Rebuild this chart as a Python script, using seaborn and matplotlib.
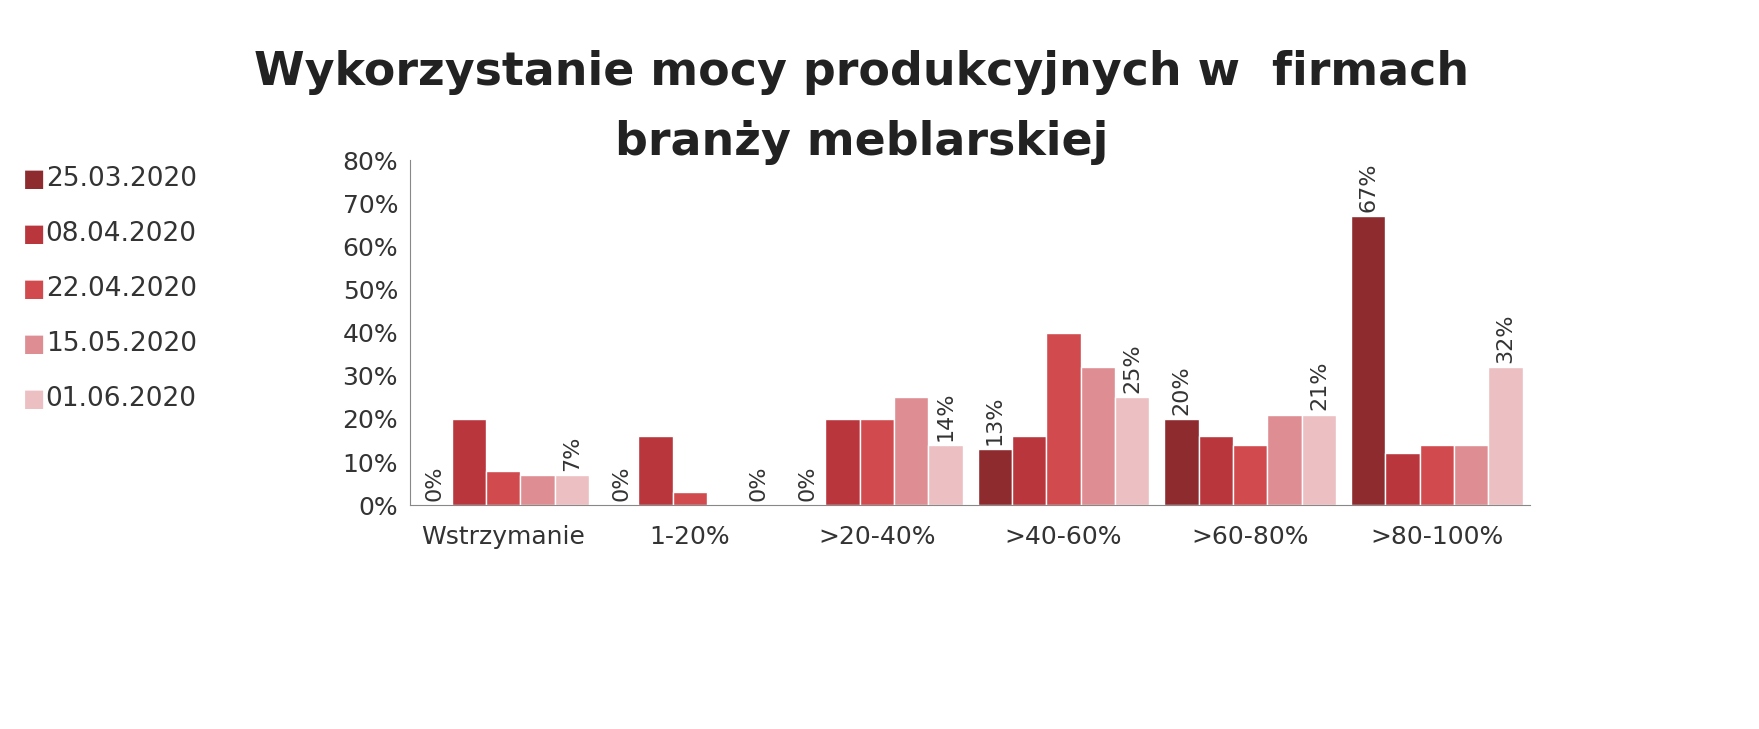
import matplotlib
matplotlib.use("Agg")
import matplotlib.pyplot as plt
import seaborn as sns
import pandas as pd
import numpy as np

categories = ["Wstrzymanie", "1-20%", ">20-40%", ">40-60%", ">60-80%", ">80-100%"]
series = ["25.03.2020", "08.04.2020", "22.04.2020", "15.05.2020", "01.06.2020"]
v_2503 = [0, 0, 0, 13, 20, 67]
v_0804 = [20, 16, 20, 16, 16, 12]
v_2204 = [8, 3, 20, 40, 14, 14]
v_1505 = [7, 0, 25, 32, 21, 14]
v_0106 = [7, 0, 14, 25, 21, 32]
colors = ["#8E2B2E", "#B8363C", "#D04A4E", "#DE8E92", "#ECBFC2"]

vals = [v_2503, v_0804, v_2204, v_1505, v_0106]
df = pd.DataFrame([(c, s, v[i]) for s, v in zip(series, vals) for i, c in enumerate(categories)],
                  columns=["cat", "series", "val"])

sns.set_style("white")
plt.rcParams['font.family'] = ['DejaVu Sans']
fig = plt.figure(figsize=(17.59, 7.29), dpi=100)
ax = fig.add_axes([0.233, 0.307, 0.637, 0.473])
sns.barplot(data=df, x="cat", y="val", hue="series", palette=colors, width=0.92,
            ax=ax, legend=False, saturation=1)
ax.set_ylim(0, 80)
ax.set_yticks(range(0, 81, 10))
ax.set_yticklabels([f"{t}%" for t in range(0, 81, 10)], fontsize=18, color="#333333")
ax.set_xticklabels(categories, fontsize=18, color="#333333")
ax.tick_params(axis="x", pad=14)
ax.set_xlabel(""); ax.set_ylabel("")
for s in ["top", "right"]:
    ax.spines[s].set_visible(False)
ax.spines["left"].set_color("#888888")
ax.spines["bottom"].set_color("#888888")
ax.set_xticks(np.arange(-0.5, 6, 1), minor=True)
ax.tick_params(axis="x", which="minor", length=8, color="#888888")
ax.tick_params(axis="x", which="major", length=0)
ax.tick_params(axis="y", length=5, color="#888888")

bw = 0.92 / 5
for si, v in [(0, v_2503), (4, v_0106)]:
    for i, val in enumerate(v):
        x = i - 0.46 + bw * (si + 0.5)
        ax.text(x, val + 1, f"{val}%", rotation=90, ha="center", va="bottom", fontsize=16, color="#333333")

for k, (s, c) in enumerate(zip(series, colors)):
    y = 0.755 - k * 0.0755
    fig.text(0.013, y, "■", color=c, fontsize=17, va="center")
    fig.text(0.026, y, s, fontsize=19, va="center", color="#333333")

fig.text(0.49, 0.9, "Wykorzystanie mocy produkcyjnych w  firmach", ha="center", va="center",
         fontsize=33, fontweight="bold", color="#222222")
fig.text(0.49, 0.805, "branży meblarskiej", ha="center", va="center",
         fontsize=33, fontweight="bold", color="#222222")
fig.savefig("out.png", dpi=100)
